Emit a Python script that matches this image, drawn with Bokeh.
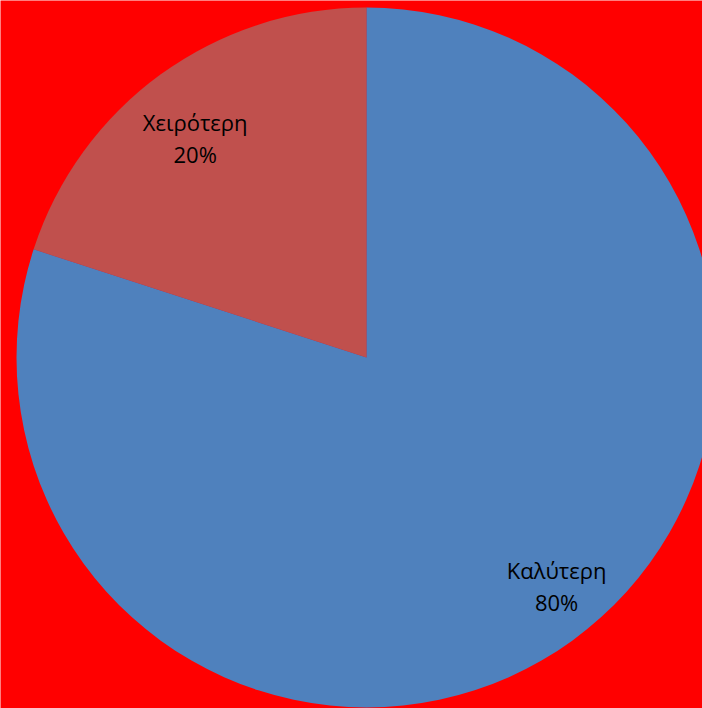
import math
from bokeh.plotting import figure
from bokeh.models import Range1d, ColumnDataSource
from bokeh.core.properties import value
from bokeh.embed import file_html
from bokeh.resources import INLINE

categories = ["Χειρότερη", "Καλύτερη"]
shares = [20, 80]
pct_labels = ["20%", "80%"]
colors = ["#C0504D", "#4F81BD"]

W, H = 702, 708
cx, cy, R = 366, 351, 350

p = figure(width=W, height=H, output_backend="svg", toolbar_location=None,
           x_range=Range1d(0, W), y_range=Range1d(0, H), min_border=0)
p.axis.visible = False
p.grid.visible = False
p.outline_line_color = None
p.background_fill_color = "#FF0000"
p.border_fill_color = "#FF0000"

total = sum(shares)
starts, ends, lx, ly = [], [], [], []
a = math.pi / 2
rfac = [0.795, 0.85]
aoff = [0.035, 0.065]
for i, s in enumerate(shares):
    span = 2 * math.pi * s / total
    starts.append(a)
    ends.append(a + span)
    mid = a + span / 2 + aoff[i]
    lx.append(cx + rfac[i] * R * math.cos(mid))
    ly.append(cy + rfac[i] * R * math.sin(mid))
    a += span

src = ColumnDataSource(dict(start=starts, end=ends, color=colors,
                            cat=categories, pct=pct_labels, lx=lx, ly=ly))
p.wedge(x=cx, y=cy, radius=R, start_angle="start", end_angle="end",
        fill_color="color", line_color=None, source=src)
p.text(x="lx", y="ly", text="cat", source=src, text_align="center",
       text_baseline="middle", y_offset=-16, text_font=value("Open Sans"),
       text_font_size="22px", text_color="black")
p.text(x="lx", y="ly", text="pct", source=src, text_align="center",
       text_baseline="middle", y_offset=16, text_font=value("Open Sans"),
       text_font_size="22px", text_color="black")

html = file_html(p, INLINE)
html = html.replace("<body>", '<body style="background-color:#FF0000;">', 1)
open("out.html", "w").write(html)
